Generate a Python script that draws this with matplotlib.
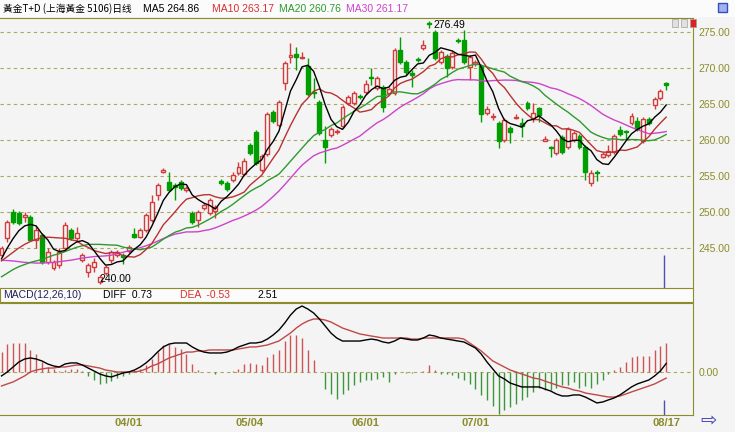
import numpy as np
import matplotlib
matplotlib.use("Agg")
import matplotlib.pyplot as plt
from matplotlib.patches import Rectangle

# ── daily candles, Au(T+D), 2010-03 .. 08/17 ───────────────────────────────
opens = [244.0, 246.4, 250.0, 249.9, 249.3, 249.3, 246.1, 246.8, 243.1, 242.2,
         242.6, 245.0, 247.5, 246.4, 243.3, 241.7, 242.4, 240.3, 241.5, 243.3,
         244.0, 244.0, 244.6, 246.9, 246.5, 247.5, 248.9, 252.4, 255.6, 254.2,
         253.75, 254.2, 253.1, 249.9, 248.9, 250.6, 249.9, 250.1, 254.3, 254.0,
         254.4, 255.4, 255.3, 259.3, 261.1, 255.8, 258.1, 263.9, 262.1, 267.9,
         271.5, 271.9, 271.4, 270.3, 266.7, 265.3, 260.0, 260.7, 261.1, 261.9,
         265.1, 265.1, 266.1, 266.7, 268.75, 267.2, 267.4, 266.5, 266.5, 272.5,
         270.8, 269.3, 271.25, 272.8, 276.3, 275.0, 270.8, 271.7, 270.1, 273.9,
         273.9, 270.1, 270.6, 270.3, 263.75, 263.2, 262.4, 260.0, 261.7, 263.1,
         262.4, 265.1, 263.1, 264.4, 259.9, 259.0, 258.2, 260.4, 259.0, 260.0,
         260.6, 259.0, 254.0, 255.6, 257.6, 257.9, 258.3, 261.4, 261.25, 262.4,
         262.6, 259.9, 262.9, 264.9, 265.8, 267.9]
highs = [245.3, 248.9, 250.4, 250.1, 250.0, 249.6, 248.1, 247.1, 245.0, 243.3,
         245.0, 248.6, 247.8, 247.9, 244.3, 242.9, 243.6, 241.3, 242.6, 244.7,
         244.7, 244.3, 245.4, 247.8, 247.8, 249.9, 252.4, 254.0, 256.1, 255.6,
         254.0, 254.4, 253.6, 250.1, 250.3, 251.25, 251.9, 251.0, 254.6, 254.3,
         255.6, 256.9, 257.5, 259.6, 261.4, 258.1, 263.9, 264.2, 265.6, 271.0,
         273.5, 272.9, 272.2, 271.4, 268.6, 265.6, 261.9, 261.8, 261.5, 264.9,
         266.25, 266.8, 266.4, 268.3, 270.0, 268.9, 267.6, 267.4, 272.8, 274.3,
         271.1, 269.7, 271.5, 273.9, 276.49, 275.3, 272.5, 271.9, 272.4, 274.2,
         275.3, 271.8, 271.1, 270.6, 264.7, 263.75, 262.6, 263.1, 261.9, 263.6,
         263.1, 265.4, 265.1, 264.6, 260.6, 259.2, 260.3, 260.7, 261.8, 261.25,
         260.8, 259.3, 255.8, 255.8, 258.3, 259.3, 260.8, 261.9, 261.4, 263.75,
         263.2, 263.2, 263.2, 266.0, 267.1, 268.1]
lows = [243.8, 245.8, 248.3, 248.2, 248.6, 246.0, 245.0, 242.8, 242.8, 242.0,
        242.2, 244.7, 246.1, 245.8, 243.1, 241.0, 241.7, 240.0, 241.3, 242.9,
        243.75, 242.8, 244.3, 246.4, 246.4, 247.2, 248.6, 251.7, 255.4, 252.9,
        251.7, 253.1, 252.8, 248.3, 247.9, 250.3, 249.6, 249.2, 253.75, 252.9,
        254.2, 255.1, 255.0, 257.9, 256.5, 255.6, 257.8, 262.4, 261.8, 266.9,
        270.7, 269.7, 271.25, 266.1, 265.8, 260.7, 256.8, 260.4, 260.8, 261.7,
        264.9, 264.9, 265.7, 266.4, 267.6, 266.9, 263.9, 266.25, 266.25, 270.6,
        269.0, 267.4, 270.8, 272.5, 275.6, 271.1, 270.6, 268.75, 269.9, 273.5,
        270.6, 268.3, 270.3, 262.5, 263.5, 262.8, 258.9, 259.7, 259.6, 262.9,
        260.4, 264.2, 262.5, 262.5, 259.9, 257.6, 257.9, 258.1, 258.75, 259.7,
        258.75, 254.4, 253.6, 254.3, 257.5, 257.6, 258.1, 260.6, 260.0, 262.1,
        261.25, 259.6, 262.1, 264.3, 265.6, 266.9]
closes = [245.0, 248.6, 248.6, 248.5, 249.6, 246.1, 247.5, 243.1, 244.4, 243.1,
          244.4, 248.2, 246.4, 247.1, 244.0, 242.6, 243.1, 241.0, 242.4, 244.4,
          244.4, 243.75, 245.1, 246.5, 247.5, 249.6, 251.4, 253.75, 255.8, 253.1,
          253.5, 253.3, 253.3, 248.6, 250.0, 251.0, 251.7, 250.7, 254.0, 253.2,
          255.1, 256.25, 257.1, 258.2, 256.8, 257.8, 263.6, 262.6, 265.3, 270.7,
          271.8, 271.5, 271.5, 266.4, 266.5, 261.0, 259.0, 261.5, 261.25, 264.6,
          266.0, 266.5, 265.97, 267.8, 268.6, 268.6, 264.6, 267.1, 272.5, 270.8,
          269.4, 269.0, 271.1, 273.2, 276.1, 271.4, 272.2, 270.0, 272.1, 273.75,
          270.8, 271.5, 270.8, 263.6, 264.3, 263.3, 259.9, 262.8, 261.1, 263.2,
          261.9, 264.4, 263.75, 263.5, 260.1, 258.9, 260.0, 258.3, 261.5, 261.0,
          259.0, 255.6, 255.4, 255.4, 258.1, 258.5, 260.6, 260.8, 261.1, 263.3,
          261.5, 262.9, 262.4, 265.7, 266.8, 267.6]

# moving-average lines as drawn on the chart
ma5 = [243.5, 245.0, 246.3, 247.4, 248.06, 248.28, 248.06, 246.96, 246.14, 244.84,
       244.5, 244.64, 245.3, 245.84, 246.02, 245.66, 244.64, 243.56, 242.62, 242.7,
       243.06, 243.19, 244.01, 244.83, 245.45, 246.49, 248.02, 249.75, 251.61, 252.73,
       253.51, 253.89, 253.8, 252.36, 251.74, 251.24, 250.92, 250.4, 251.48, 252.12,
       252.94, 253.85, 255.13, 255.97, 256.69, 257.23, 258.7, 259.8, 261.22, 264.0,
       266.8, 268.38, 270.16, 270.38, 269.54, 267.38, 264.88, 262.88, 261.85, 261.47,
       262.47, 263.97, 264.86, 266.17, 266.97, 267.49, 267.11, 267.34, 268.28, 268.72,
       268.88, 269.76, 270.56, 270.7, 271.76, 272.16, 272.8, 272.58, 272.36, 271.89,
       271.77, 271.63, 271.79, 270.09, 268.2, 266.7, 264.38, 262.78, 262.28, 262.06,
       261.78, 262.68, 262.87, 263.35, 262.73, 262.13, 261.25, 260.16, 259.76, 259.94,
       259.96, 259.08, 258.5, 257.28, 256.7, 256.6, 257.6, 258.68, 259.82, 260.86,
       261.46, 261.92, 262.24, 263.16, 263.86, 264.86]
ma10 = [243.2, 243.8, 244.4, 245.0, 245.5, 245.9, 246.2, 246.4, 246.5, 246.45,
        246.39, 246.35, 246.13, 245.99, 245.43, 245.08, 244.64, 244.43, 244.23, 244.36,
        244.36, 243.92, 243.79, 243.73, 244.08, 244.78, 245.61, 246.88, 248.22, 249.09,
        250.0, 250.96, 251.78, 251.99, 252.24, 252.38, 252.41, 252.1, 251.92, 251.93,
        252.09, 252.39, 252.77, 253.73, 254.41, 255.09, 256.28, 257.47, 258.6, 260.35,
        262.02, 263.54, 264.98, 265.8, 266.77, 267.09, 266.63, 266.52, 266.12, 265.51,
        264.93, 264.43, 263.87, 264.01, 264.22, 264.98, 265.54, 266.1, 267.23, 267.85,
        268.19, 268.44, 268.95, 269.49, 270.24, 270.52, 271.28, 271.57, 271.53, 271.83,
        271.97, 272.22, 272.19, 271.23, 270.05, 269.24, 268.01, 267.29, 266.19, 265.13,
        264.24, 263.53, 262.83, 262.82, 262.4, 261.96, 261.97, 261.52, 261.56, 261.34,
        261.05, 260.17, 259.33, 258.52, 258.32, 258.28, 258.34, 258.59, 258.55, 258.78,
        259.03, 259.76, 260.46, 261.49, 262.36, 263.17]
ma20 = [241.0, 241.5, 242.0, 242.4, 242.7, 243.0, 243.2, 243.4, 243.7, 244.0,
        244.2, 244.5, 244.8, 245.1, 245.3, 245.5, 245.5, 245.5, 245.45, 245.41,
        245.38, 245.13, 244.96, 244.86, 244.75, 244.93, 245.12, 245.66, 246.23, 246.73,
        247.18, 247.44, 247.78, 247.86, 248.16, 248.58, 249.01, 249.49, 250.07, 250.51,
        251.05, 251.67, 252.27, 252.86, 253.32, 253.73, 254.34, 254.78, 255.26, 256.14,
        257.05, 257.96, 258.87, 259.76, 260.59, 261.09, 261.45, 261.99, 262.36, 262.93,
        263.47, 263.98, 264.43, 264.91, 265.5, 266.04, 266.09, 266.31, 266.67, 266.68,
        266.56, 266.43, 266.41, 266.75, 267.23, 267.75, 268.41, 268.84, 269.38, 269.84,
        270.08, 270.33, 270.57, 270.36, 270.14, 269.88, 269.64, 269.43, 268.86, 268.48,
        268.1, 267.87, 267.51, 267.02, 266.22, 265.6, 264.99, 264.4, 263.87, 263.23,
        262.64, 261.85, 261.08, 260.67, 260.36, 260.12, 260.15, 260.05, 260.05, 260.06,
        260.04, 259.96, 259.9, 260.01, 260.34, 260.76]
ma30 = [243.3, 243.25, 243.2, 243.1, 243.0, 242.95, 242.9, 242.9, 242.95, 243.0,
        243.1, 243.2, 243.3, 243.45, 243.6, 243.7, 243.8, 243.85, 243.9, 244.0,
        244.2, 244.4, 244.6, 244.8, 245.05, 245.3, 245.6, 245.95, 246.3, 246.63,
        246.92, 247.07, 247.23, 247.23, 247.25, 247.41, 247.55, 247.8, 248.12, 248.46,
        248.82, 249.09, 249.44, 249.81, 250.24, 250.75, 251.43, 252.15, 252.91, 253.79,
        254.7, 255.63, 256.51, 257.17, 257.8, 258.18, 258.44, 258.7, 258.88, 259.26,
        259.68, 260.12, 260.54, 261.18, 261.8, 262.39, 262.82, 263.36, 263.98, 264.57,
        265.04, 265.47, 265.93, 266.43, 267.08, 267.53, 267.82, 268.06, 268.29, 268.39,
        268.36, 268.36, 268.34, 268.24, 268.17, 268.25, 268.28, 268.32, 268.31, 268.27,
        268.13, 268.06, 267.99, 267.84, 267.56, 267.24, 267.08, 266.79, 266.42, 266.1,
        265.75, 265.3, 264.78, 264.19, 263.59, 263.16, 262.77, 262.46, 262.1, 261.75,
        261.44, 261.15, 260.87, 260.94, 261.03, 261.17]

# MACD(12,26,10) panel
diff = [-0.34, 0.0, 0.43, 0.86, 1.12, 1.21, 1.12, 0.95, 0.69, 0.52,
        0.43, 0.69, 0.78, 0.78, 0.60, 0.34, 0.09, -0.17, -0.34, -0.43,
        -0.26, -0.09, 0.0, 0.17, 0.43, 0.78, 1.21, 1.72, 2.16, 2.41,
        2.50, 2.50, 2.50, 2.16, 1.90, 1.72, 1.64, 1.64, 1.64, 1.72,
        1.90, 2.16, 2.33, 2.50, 2.50, 2.59, 2.84, 3.19, 3.62, 4.22,
        4.91, 5.43, 5.69, 5.43, 5.09, 4.57, 3.97, 3.36, 2.93, 2.67,
        2.67, 2.67, 2.67, 2.76, 2.84, 2.76, 2.59, 2.50, 2.67, 2.93,
        2.84, 2.76, 2.76, 2.93, 3.19, 3.10, 2.93, 2.84, 2.76, 2.67,
        2.59, 2.33, 2.07, 1.55, 0.86, 0.26, -0.34, -0.60, -0.95, -1.12,
        -1.29, -1.29, -1.29, -1.29, -1.47, -1.64, -1.90, -2.07, -2.07, -1.98,
        -1.98, -2.16, -2.41, -2.67, -2.59, -2.41, -2.24, -1.98, -1.64, -1.29,
        -1.03, -0.86, -0.69, -0.34, 0.09, 0.73]
dea = [-1.21, -1.03, -0.86, -0.60, -0.34, 0.0, 0.17, 0.26, 0.34, 0.34,
       0.43, 0.43, 0.52, 0.60, 0.60, 0.52, 0.43, 0.34, 0.17, 0.09,
       0.0, 0.0, 0.0, 0.0, 0.09, 0.26, 0.52, 0.69, 0.95, 1.21,
       1.38, 1.55, 1.72, 1.72, 1.81, 1.81, 1.90, 1.90, 1.90, 1.90,
       1.90, 1.98, 2.07, 2.16, 2.16, 2.24, 2.33, 2.50, 2.67, 3.02,
       3.36, 3.79, 4.14, 4.40, 4.57, 4.57, 4.48, 4.31, 4.05, 3.79,
       3.62, 3.45, 3.28, 3.19, 3.10, 3.02, 2.93, 2.93, 2.93, 2.93,
       2.93, 2.84, 2.84, 2.93, 2.93, 2.93, 2.93, 2.93, 2.93, 2.93,
       2.84, 2.50, 2.16, 1.81, 1.38, 0.95, 0.69, 0.43, 0.17, 0.0,
       -0.17, -0.34, -0.52, -0.60, -0.78, -0.95, -1.12, -1.29, -1.38, -1.55,
       -1.64, -1.81, -1.90, -1.98, -2.07, -2.16, -2.16, -2.07, -1.90, -1.72,
       -1.55, -1.38, -1.21, -1.03, -0.78, -0.53]
macd_hist = [1.72, 2.44, 2.5, 2.5, 2.5, 1.93, 1.58, 0.86, 0.43, 0.29,
             0.09, 0.2, 0.29, 0.29, 0.09, -0.37, -0.72, -1.06, -0.95, -0.78,
             -0.49, -0.32, -0.14, 0.14, 0.29, 0.57, 1.15, 1.72, 2.3, 2.44,
             2.16, 2.01, 1.58, 0.72, 0.14, 0.03, -0.03, -0.14, 0.0, 0.03,
             0.09, 0.29, 0.66, 0.78, 0.72, 0.57, 1.29, 1.58, 1.93, 2.67,
             3.16, 3.16, 2.96, 1.93, 1.06, 0.0, -1.44, -1.87, -2.3, -1.87,
             -1.58, -1.15, -0.86, -0.72, -0.72, -0.57, -0.43, -0.86, -0.2, 0.0,
             -0.09, -0.09, 0.0, 0.09, 0.57, 0.14, -0.14, -0.14, -0.29, -0.49,
             -0.72, -1.0, -1.44, -2.01, -2.44, -2.96, -3.59, -3.3, -3.02, -2.73,
             -2.44, -2.16, -1.72, -1.35, -1.52, -1.58, -1.35, -1.15, -1.15, -0.86,
             -1.35, -1.24, -1.35, -1.0, -0.72, -0.2, 0.14, 0.43, 0.86, 1.29,
             1.35, 1.35, 1.35, 1.87, 2.21, 2.51]

date_pos = [22, 43, 63, 82, 115]
date_labels = ["04/01", "05/04", "06/01", "07/01", "08/17"]
price_ticks = [245, 250, 255, 260, 265, 270, 275]

# ── style ───────────────────────────────────────────────────────────────────
BG, OLIVE, GRID = "#F4F4F4", "#8C8C2A", "#A8A860"
RED, GREEN = "#D23C3C", "#009E00"
C_MA = {"MA5": "#000000", "MA10": "#B83232", "MA20": "#2E9A2E", "MA30": "#CC44CC"}
NUM = "Liberation Sans"
CJK = ["Noto Sans CJK SC", "DejaVu Sans"]

W, H = 735, 432
fig = plt.figure(figsize=(W / 100, H / 100), dpi=100, facecolor=BG)
fx = lambda px: px / W
fy = lambda py: 1 - py / H

ax = fig.add_axes([0, fy(288), fx(693), fy(18) - fy(288)], facecolor=BG)
axm = fig.add_axes([0, fy(415), fx(693), fy(303) - fy(415)], facecolor=BG)

o, h, l, c = map(np.asarray, (opens, highs, lows, closes))
x = np.arange(len(c))
up = c >= o
for a in (ax, axm):
    a.set_xlim(-0.26, 119.64)

# ── candles ─────────────────────────────────────────────────────────────────
ax.vlines(x, l, h, colors=np.where(up, RED, GREEN), lw=1, zorder=2)
lo = np.minimum(o, c)
ht = np.maximum(np.abs(c - o), 0.06)
ax.bar(x[up], ht[up], bottom=lo[up], width=0.68, facecolor=BG,
       edgecolor=RED, lw=1, zorder=3)
ax.bar(x[~up], ht[~up], bottom=lo[~up], width=0.68, facecolor=GREEN,
       edgecolor=GREEN, lw=1, zorder=3)
for name, vals in (("MA30", ma30), ("MA20", ma20), ("MA10", ma10), ("MA5", ma5)):
    ax.plot(x, vals, color=C_MA[name], lw=1, zorder=4)

for p in price_ticks:
    ax.axhline(p, color=GRID, lw=0.8, ls=(0, (3, 3)), zorder=1)
ax.set_ylim(239.44, 276.94)
ax.yaxis.tick_right()
ax.set_yticks(price_ticks)
ax.set_yticklabels([f"{p:.2f}" for p in price_ticks], color=OLIVE,
                   fontsize=7.5, family=NUM)
ax.tick_params(axis="y", length=0, pad=4)
ax.set_xticks([])
for s in ("left", "bottom"):
    ax.spines[s].set_visible(False)
for s in ("right", "top"):
    ax.spines[s].set_color(OLIVE)

imax, imin = int(np.argmax(h)), int(np.argmin(l))
ax.annotate(f"{h[imax]:.2f}", (imax, h[imax]), xytext=(4, -4),
            textcoords="offset pixels", fontsize=7.5, family=NUM, va="center")
ax.annotate(f"{l[imin]:.2f}", (imin, l[imin]), xytext=(0, 5),
            textcoords="offset pixels", fontsize=7.5, family=NUM, va="center")
ax.vlines(x[-1] - 0.3, ax.get_ylim()[0], 244.0, color="#5050B0", lw=1, zorder=5)

# ── MACD ────────────────────────────────────────────────────────────────────
hist = np.asarray(macd_hist)
axm.vlines(x, 0, hist, colors=np.where(hist >= 0, "#CC5555", "#3C963C"), lw=1, zorder=2)
axm.axhline(0, color=GRID, lw=0.8, ls=(0, (3, 3)), zorder=1)
axm.plot(x, dea, color="#C04848", lw=1, zorder=3)
axm.plot(x, diff, color="#000000", lw=1, zorder=4)
axm.set_ylim(-3.71, 5.95)
axm.vlines(x[-1] - 0.3, -3.71, -2.4, color="#5050B0", lw=1, zorder=5)
axm.yaxis.tick_right()
axm.set_yticks([0])
axm.set_yticklabels(["0.00"], color=OLIVE, fontsize=7.5, family=NUM)
axm.tick_params(axis="y", length=0, pad=4)
axm.set_xticks(date_pos)
axm.set_xticklabels(date_labels, color=OLIVE, fontsize=8, fontweight="bold", family=NUM)
axm.tick_params(axis="x", length=0, pad=2)
axm.spines["left"].set_visible(False)
for s in ("right", "top", "bottom"):
    axm.spines[s].set_color(OLIVE)

# ── header texts ────────────────────────────────────────────────────────────
fig.patches.append(Rectangle((0, fy(17)), fx(735), fy(0) - fy(17), transform=fig.transFigure,
                             facecolor="#FBFBFB", edgecolor="none", zorder=0))
fig.text(fx(3), fy(9), "黃金T+D (上海黃金 5106)日线", family=CJK, fontsize=7,
         va="center", ha="left")
fig.text(fx(143), fy(9), "MA5 264.86", color=C_MA["MA5"], family=NUM, fontsize=7.5, va="center")
fig.text(fx(212), fy(9), "MA10 263.17", color="#D83030", family=NUM, fontsize=7.5, va="center")
fig.text(fx(279), fy(9), "MA20 260.76", color=C_MA["MA20"], family=NUM, fontsize=7.5, va="center")
fig.text(fx(346), fy(9), "MA30 261.17", color=C_MA["MA30"], family=NUM, fontsize=7.5, va="center")

fig.patches.append(Rectangle((0, fy(302)), fx(693), fy(288) - fy(302), transform=fig.transFigure,
                             facecolor="#FBFBFB", edgecolor=OLIVE, lw=0.8, zorder=0))
fig.text(fx(3), fy(295), "MACD(12,26,10)", color="#202060", family=NUM, fontsize=7.5, va="center")
fig.text(fx(103), fy(295), "DIFF  0.73", color="black", family=NUM, fontsize=7.5, va="center")
fig.text(fx(180), fy(295), "DEA  -0.53", color="#D83030", family=NUM, fontsize=7.5, va="center")
fig.text(fx(257), fy(295), "2.51", color="black", family=NUM, fontsize=7.5, va="center")

# small window widgets
fig.patches.append(Rectangle((fx(718), fy(12)), fx(9), fy(3) - fy(12), transform=fig.transFigure,
                             facecolor="#A0B0F0", edgecolor="#3050C0", lw=1))
for px, col in ((672, "#E0E0E0"), (681, "#E0E0E0"), (690, "#E02020")):
    fig.patches.append(Rectangle((fx(px), fy(27)), fx(6), fy(19) - fy(27), transform=fig.transFigure,
                                 facecolor=col, edgecolor="#A0A0A0", lw=0.5))
fig.text(fx(709), fy(421), "\u21E8", color="#4040C0", fontsize=14, ha="center", va="center",
         family="DejaVu Sans")

fig.savefig("out.png", dpi=100, facecolor=BG)
